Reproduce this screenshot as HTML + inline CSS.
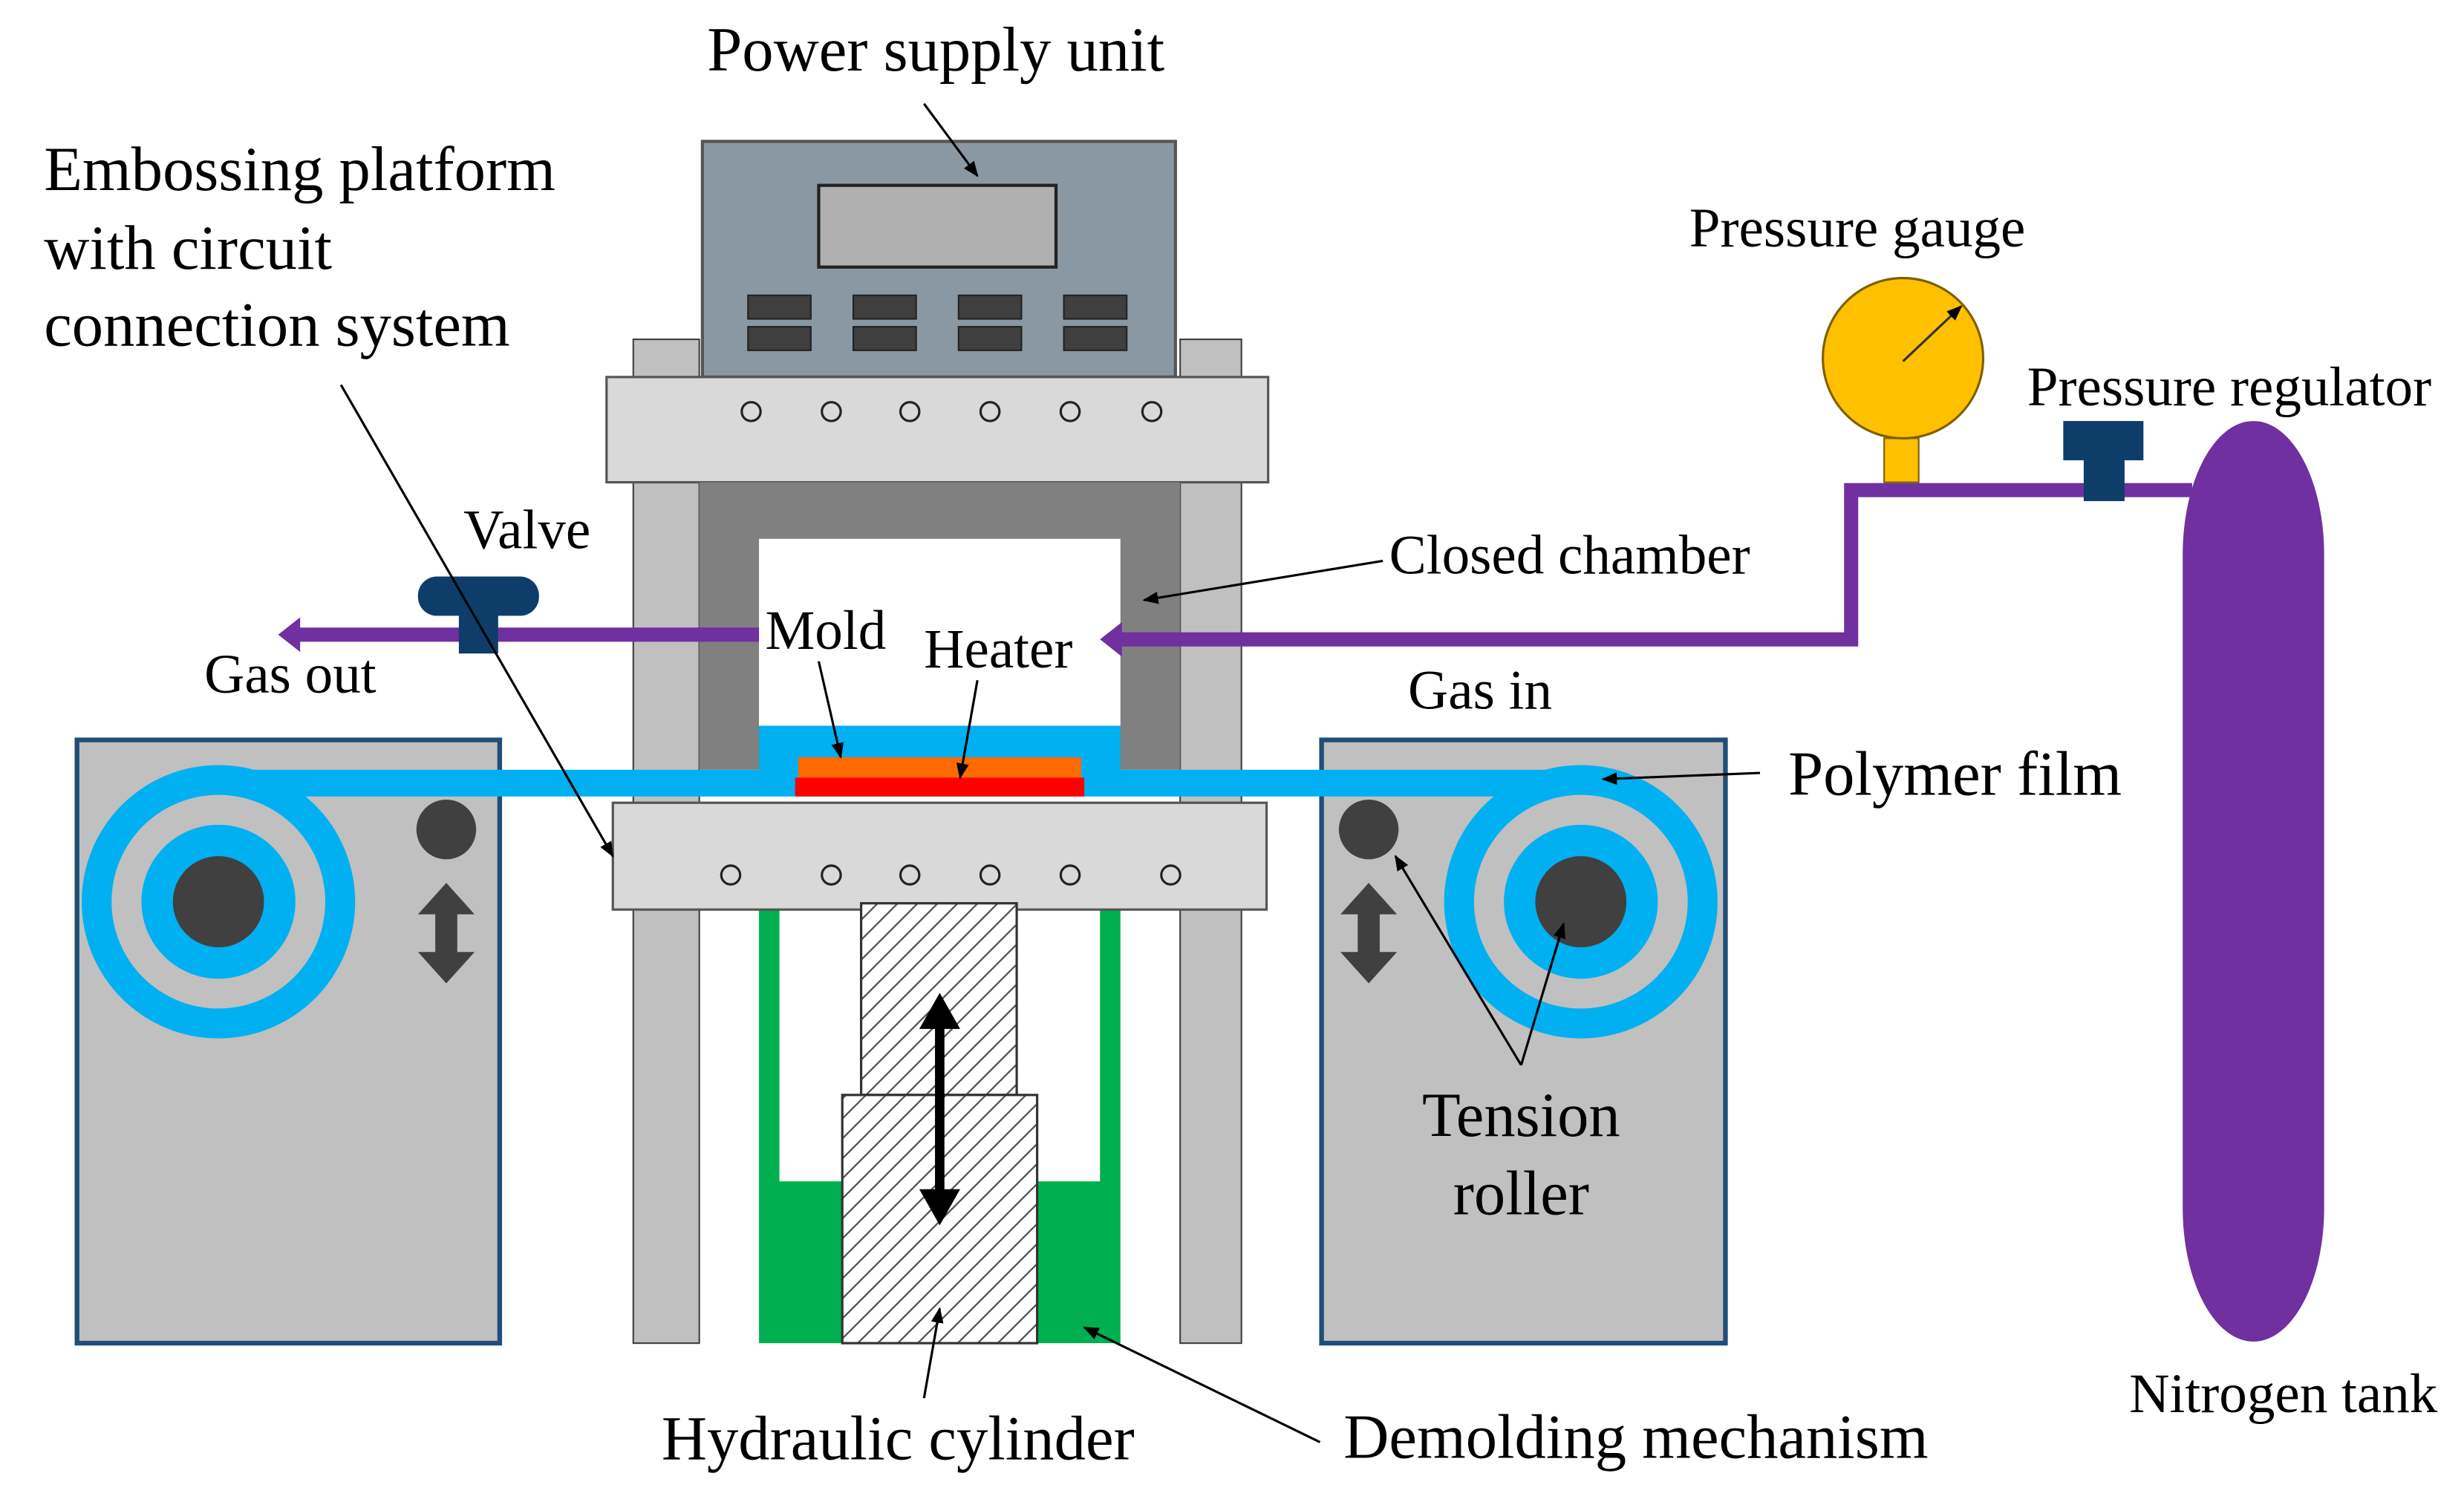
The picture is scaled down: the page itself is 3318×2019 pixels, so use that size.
<!DOCTYPE html>
<html><head><meta charset="utf-8"><style>
html,body{margin:0;padding:0;background:#fff;}
svg{display:block;}
text{font-family:"Liberation Serif",serif;fill:#000;}
</style></head><body>
<svg width="3318" height="2019" viewBox="0 0 1568 954.2" preserveAspectRatio="none" xmlns="http://www.w3.org/2000/svg">
<defs>
<marker id="ah" markerWidth="10" markerHeight="10" refX="9" refY="5" orient="auto" markerUnits="userSpaceOnUse"><path d="M0,1 L10,5 L0,9 z" fill="#000"/></marker>
<pattern id="hatch" width="9" height="9" patternUnits="userSpaceOnUse" patternTransform="rotate(45)"><rect width="9" height="9" fill="#fff"/><line x1="0" y1="0" x2="0" y2="9" stroke="#555" stroke-width="2.2"/></pattern>
</defs>
<rect x="403" y="216" width="42" height="639" fill="#c0c0c0" stroke="#404040" stroke-width="1"/>
<rect x="751" y="216" width="39" height="639" fill="#c0c0c0" stroke="#404040" stroke-width="1"/>
<rect x="447" y="90" width="301" height="150" fill="#8a98a3" stroke="#555" stroke-width="2"/>
<rect x="521" y="118" width="151" height="52" fill="#b0b0b0" stroke="#222" stroke-width="2"/>
<g fill="#3f3f3f" stroke="#222">
<rect x="476" y="188" width="40" height="15"/><rect x="476" y="208" width="40" height="15"/>
<rect x="543" y="188" width="40" height="15"/><rect x="543" y="208" width="40" height="15"/>
<rect x="610" y="188" width="40" height="15"/><rect x="610" y="208" width="40" height="15"/>
<rect x="677" y="188" width="40" height="15"/><rect x="677" y="208" width="40" height="15"/>
</g>
<rect x="386" y="240" width="421" height="67" fill="#d9d9d9" stroke="#555" stroke-width="1.5"/>
<g fill="none" stroke="#222" stroke-width="1.5">
<circle cx="478" cy="262" r="6"/><circle cx="529" cy="262" r="6"/><circle cx="579" cy="262" r="6"/><circle cx="630" cy="262" r="6"/><circle cx="681" cy="262" r="6"/><circle cx="733" cy="262" r="6"/>
</g>
<rect x="445" y="307" width="306" height="183" fill="#808080"/>
<rect x="483" y="343" width="230" height="119" fill="#fff"/>
<rect x="483" y="462" width="230" height="30" fill="#00b0f0"/>
<rect x="483" y="511" width="230" height="344" fill="#00b050"/>
<rect x="496" y="579" width="204" height="173" fill="#fff"/>
<rect x="390" y="511" width="416" height="68" fill="#d9d9d9" stroke="#555" stroke-width="1.5"/>
<g fill="none" stroke="#222" stroke-width="1.5">
<circle cx="465" cy="557" r="6"/><circle cx="529" cy="557" r="6"/><circle cx="579" cy="557" r="6"/><circle cx="630" cy="557" r="6"/><circle cx="681" cy="557" r="6"/><circle cx="745" cy="557" r="6"/>
</g>
<rect x="548" y="575" width="99" height="122" fill="url(#hatch)" stroke="#333" stroke-width="1.5"/>
<rect x="536" y="697" width="124" height="158" fill="url(#hatch)" stroke="#333" stroke-width="1.5"/>
<line x1="598" y1="650" x2="598" y2="762" stroke="#000" stroke-width="6"/>
<path d="M585,655 L598,632 L611,655 z M585,757 L598,780 L611,757 z" fill="#000"/>
<rect x="49" y="471" width="269" height="384" fill="#c0c0c0" stroke="#1f4e79" stroke-width="3"/>
<rect x="841" y="471" width="257" height="384" fill="#c0c0c0" stroke="#1f4e79" stroke-width="3"/>
<rect x="139" y="490" width="867" height="17" fill="#00b0f0"/>
<g>
<circle cx="139" cy="574" r="87" fill="#00b0f0"/><circle cx="139" cy="574" r="68" fill="#c0c0c0"/><circle cx="139" cy="574" r="49" fill="#00b0f0"/><circle cx="139" cy="574" r="29" fill="#404040"/>
<circle cx="1006" cy="574" r="87" fill="#00b0f0"/><circle cx="1006" cy="574" r="68" fill="#c0c0c0"/><circle cx="1006" cy="574" r="49" fill="#00b0f0"/><circle cx="1006" cy="574" r="29" fill="#404040"/>
</g>
<circle cx="284" cy="528" r="19" fill="#404040"/>
<circle cx="871" cy="528" r="19" fill="#404040"/>
<path d="M284,562 L302,582 L291,582 L291,606 L302,606 L284,626 L266,606 L277,606 L277,582 L266,582 z" fill="#404040"/>
<path d="M871,562 L889,582 L878,582 L878,606 L889,606 L871,626 L853,606 L864,606 L864,582 L853,582 z" fill="#404040"/>
<rect x="508" y="482" width="180" height="14" fill="#ff6a00"/>
<rect x="506" y="495" width="184" height="12" fill="#ff0000"/>
<path d="M1395,312 L1178,312 L1178,407 L712,407" fill="none" stroke="#7030a0" stroke-width="9"/>
<path d="M700,407 L714,396 L714,418 z" fill="#7030a0"/>
<line x1="483" y1="404" x2="190" y2="404" stroke="#7030a0" stroke-width="9"/>
<path d="M177,404 L191,393 L191,415 z" fill="#7030a0"/>
<rect x="292" y="388" width="25" height="28" fill="#0e3d69"/>
<rect x="266" y="367" width="77" height="25" rx="12" fill="#0e3d69"/>
<rect x="1389" y="268" width="90" height="586" rx="45" ry="85" fill="#7030a0"/>
<rect x="1326" y="290" width="26" height="29" fill="#0e3d69"/>
<rect x="1313" y="268" width="51" height="25" fill="#0e3d69"/>
<rect x="1199" y="279" width="22" height="28" fill="#ffc000" stroke="#7f6000" stroke-width="1"/>
<circle cx="1211" cy="228" r="51" fill="#ffc000" stroke="#7f6000" stroke-width="1.5"/>
<line x1="1211" y1="230" x2="1248" y2="195" stroke="#333" stroke-width="1.5" marker-end="url(#ah)"/>
<g stroke="#000" stroke-width="1.5" fill="none" marker-end="url(#ah)">
<line x1="588" y1="66" x2="622" y2="112"/>
<line x1="217" y1="245" x2="390" y2="545"/>
<line x1="880" y1="357" x2="728" y2="382"/>
<line x1="521" y1="421" x2="535" y2="482"/>
<line x1="622" y1="433" x2="611" y2="495"/>
<line x1="1120" y1="492" x2="1020" y2="496"/>
<line x1="968" y1="678" x2="888" y2="545"/>
<line x1="968" y1="678" x2="995" y2="588"/>
<line x1="588" y1="890" x2="598" y2="833"/>
<line x1="840" y1="918" x2="690" y2="845"/>
</g>
<g font-size="40">
<text x="450" y="45">Power supply unit</text>
<text x="28" y="121">Embossing platform</text>
<text x="28" y="171">with circuit</text>
<text x="28" y="220">connection system</text>
<text x="1138" y="506">Polymer film</text>
<text x="968" y="723" text-anchor="middle">Tension</text>
<text x="968" y="773" text-anchor="middle">roller</text>
<text x="421" y="929">Hydraulic cylinder</text>
<text x="855" y="928">Demolding mechanism</text>
</g>
<g font-size="35.5">
<text x="295" y="349">Valve</text>
<text x="130" y="441">Gas out</text>
<text x="487" y="413">Mold</text>
<text x="588" y="425">Heater</text>
<text x="884" y="365">Closed chamber</text>
<text x="1075" y="157">Pressure gauge</text>
<text x="1290" y="258">Pressure regulator</text>
<text x="896" y="451">Gas in</text>
<text x="1355" y="899">Nitrogen tank</text>
</g>
</svg>
</body></html>
